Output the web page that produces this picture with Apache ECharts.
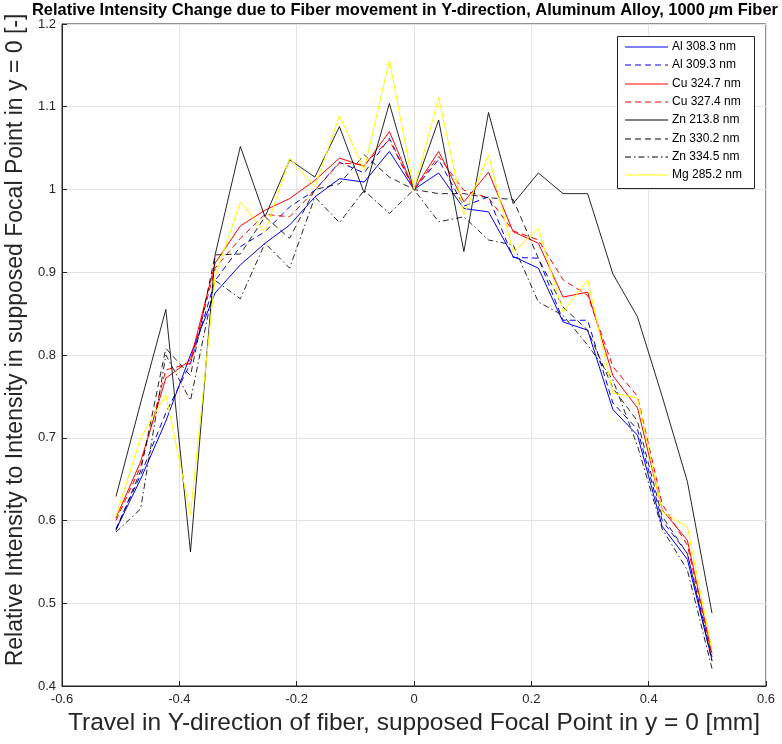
<!DOCTYPE html>
<html>
<head>
<meta charset="utf-8">
<script src="https://cdn.jsdelivr.net/npm/echarts@6/dist/echarts.min.js"></script>
<style>
html,body{margin:0;padding:0;background:#fff;}
#chart{width:782px;height:744px;}
</style>
</head>
<body>
<div id="chart"></div>
<script>
const travel = [-0.508,-0.466,-0.423,-0.381,-0.339,-0.296,-0.254,-0.212,-0.169,-0.127,-0.085,-0.042,0,0.042,0.085,0.127,0.169,0.212,0.254,0.296,0.339,0.381,0.423,0.466,0.508];
const al3083 = [0.589,0.650,0.720,0.800,0.875,0.909,0.935,0.957,0.991,1.013,1.009,1.046,1.000,1.020,0.977,0.973,0.919,0.905,0.840,0.830,0.734,0.703,0.593,0.553,0.431];
const al3093 = [0.590,0.655,0.730,0.790,0.890,0.931,0.949,0.979,0.999,1.033,1.020,1.062,1.000,1.036,0.980,0.991,0.918,0.917,0.842,0.842,0.742,0.710,0.600,0.560,0.435];
const cu3247 = [0.603,0.671,0.772,0.794,0.911,0.956,0.975,0.989,1.011,1.038,1.028,1.070,1.000,1.046,0.985,1.021,0.949,0.935,0.870,0.876,0.775,0.736,0.613,0.576,0.439];
const cu3274 = [0.600,0.665,0.782,0.790,0.905,0.941,0.970,0.967,0.999,1.032,1.030,1.060,1.000,1.040,0.999,0.990,0.950,0.939,0.891,0.872,0.786,0.750,0.620,0.570,0.437];
const zn2138 = [0.629,0.742,0.855,0.562,0.921,1.052,0.967,1.036,1.015,1.076,0.996,1.104,1.000,1.084,0.925,1.093,0.983,1.020,0.995,0.995,0.898,0.846,0.750,0.647,0.488];
const zn3302 = [0.588,0.660,0.808,0.775,0.921,0.922,0.967,0.941,1.000,1.007,1.042,1.015,1.000,0.995,0.995,0.990,0.988,0.917,0.858,0.830,0.760,0.720,0.605,0.560,0.430];
const zn3345 = [0.586,0.614,0.800,0.745,0.890,0.868,0.935,0.905,0.991,0.960,0.999,0.971,1.000,0.961,0.967,0.939,0.933,0.864,0.848,0.812,0.770,0.690,0.590,0.540,0.421];
const mg2852 = [0.605,0.700,0.752,0.607,0.895,0.985,0.948,1.038,1.003,1.089,1.024,1.156,1.000,1.111,0.970,1.042,0.924,0.953,0.852,0.891,0.754,0.748,0.611,0.592,0.443];
const seriesNames = ['Al 308.3 nm','Al 309.3 nm','Cu 324.7 nm','Cu 327.4 nm','Zn 213.8 nm','Zn 330.2 nm','Zn 334.5 nm','Mg 285.2 nm'];
const xTickLabels = ['-0.6','-0.4','-0.2','0','0.2','0.4','0.6'];
const yTickLabels = ['0.4','0.5','0.6','0.7','0.8','0.9','1','1.1','1.2'];

const values = [al3083, al3093, cu3247, cu3274, zn2138, zn3302, zn3345, mg2852];
const colors = ['#0000ff','#0000ff','#ff0000','#ff0000','#000000','#000000','#000000','#ffff00'];
const dashes = ['solid',[6,4],'solid',[6,4],'solid',[6,4],[6,3,1.5,3],'solid'];

const chart = echarts.init(document.getElementById('chart'), null, {renderer:'canvas'});
const font = 'Liberation Sans, Arial, Helvetica, sans-serif';

const series = values.map((arr, k) => ({
  name: seriesNames[k],
  type: 'line',
  data: travel.map((x, i) => [x, arr[i]]),
  symbol: 'none',
  smooth: false,
  animation: false,
  lineStyle: {color: colors[k], width: 1, type: dashes[k], opacity: k >= 4 && k <= 6 ? 0.85 : 1},
  itemStyle: {color: colors[k]}
}));

// legend box drawn as graphic (box at 617,36; 137 x 152)
const legX = 617, legY = 36, legW = 137, legH = 152, legStep = 18.3;
const legendGraphic = [{
  type: 'rect', z: 100,
  shape: {x: legX + 0.5, y: legY + 0.5, width: legW, height: legH},
  style: {fill: '#fff', stroke: '#262626', lineWidth: 1}
}];
seriesNames.forEach((n, k) => {
  const yy = Math.round(legY + 11 + legStep * k);
  legendGraphic.push({
    type: 'line', z: 101,
    shape: {x1: legX + 8, y1: yy, x2: legX + 51, y2: yy},
    style: {stroke: colors[k], lineWidth: 1.2, lineDash: dashes[k] === 'solid' ? null : dashes[k]}
  });
  legendGraphic.push({
    type: 'text', z: 101, x: legX + 55, y: yy,
    style: {text: n, fill: '#000', font: '12px ' + font, textVerticalAlign: 'middle', textAlign: 'left'}
  });
});

chart.setOption({
  animation: false,
  backgroundColor: '#fff',
  title: {
    text: 'Relative Intensity Change due to Fiber movement in Y-direction, Aluminum Alloy, 1000 {mu|μ}m Fiber',
    left: 32, top: 2, padding: 0,
    textStyle: {
      fontFamily: 'Liberation Sans Narrow, Arial Narrow, Liberation Sans, sans-serif',
      fontWeight: 'bold', fontSize: 16.45, color: '#000',
      rich: {mu: {fontStyle: 'italic', fontWeight: 'bold', fontSize: 16.45, fontFamily: 'Liberation Serif, serif', color:'#000'}}
    }
  },
  grid: {left: 62, right: 16, top: 24, bottom: 58, show: true, borderColor: '#262626', borderWidth: 1, containLabel: false, outerBoundsMode: 'none'},
  graphic: legendGraphic,
  xAxis: {
    type: 'value', min: -0.6, max: 0.6, interval: 0.2,
    name: 'Travel in Y-direction of fiber, supposed Focal Point in y = 0 [mm]',
    nameLocation: 'middle', nameGap: 24,
    nameTextStyle: {fontFamily: font, fontSize: 24.5, color: '#262626'},
    axisLine: {onZero: false, lineStyle: {color: '#262626'}},
    axisTick: {inside: true, length: 5, lineStyle: {color: '#262626'}},
    axisLabel: {fontFamily: font, fontSize: 13, color: '#262626', margin: 7,
      formatter: (v) => { const i = Math.round((v + 0.6) / 0.2); return xTickLabels[i] !== undefined ? xTickLabels[i] : ''; }},
    splitLine: {show: true, lineStyle: {color: '#e3e3e3'}}
  },
  yAxis: {
    type: 'value', min: 0.4, max: 1.2, interval: 0.1,
    name: 'Relative Intensity to Intensity in supposed Focal Point in y = 0 [-]',
    nameLocation: 'middle', nameGap: 28,
    nameTextStyle: {fontFamily: font, fontSize: 23, color: '#262626', padding: [0, 0, 0, 30]},
    axisLine: {onZero: false, lineStyle: {color: '#262626'}},
    axisTick: {inside: true, length: 5, lineStyle: {color: '#262626'}},
    axisLabel: {fontFamily: font, fontSize: 13, color: '#262626', margin: 6,
      formatter: (v) => { const i = Math.round((v - 0.4) / 0.1); return yTickLabels[i] !== undefined ? yTickLabels[i] : ''; }},
    splitLine: {show: true, lineStyle: {color: '#e3e3e3'}}
  },
  series: series
});
</script>
</body>
</html>
